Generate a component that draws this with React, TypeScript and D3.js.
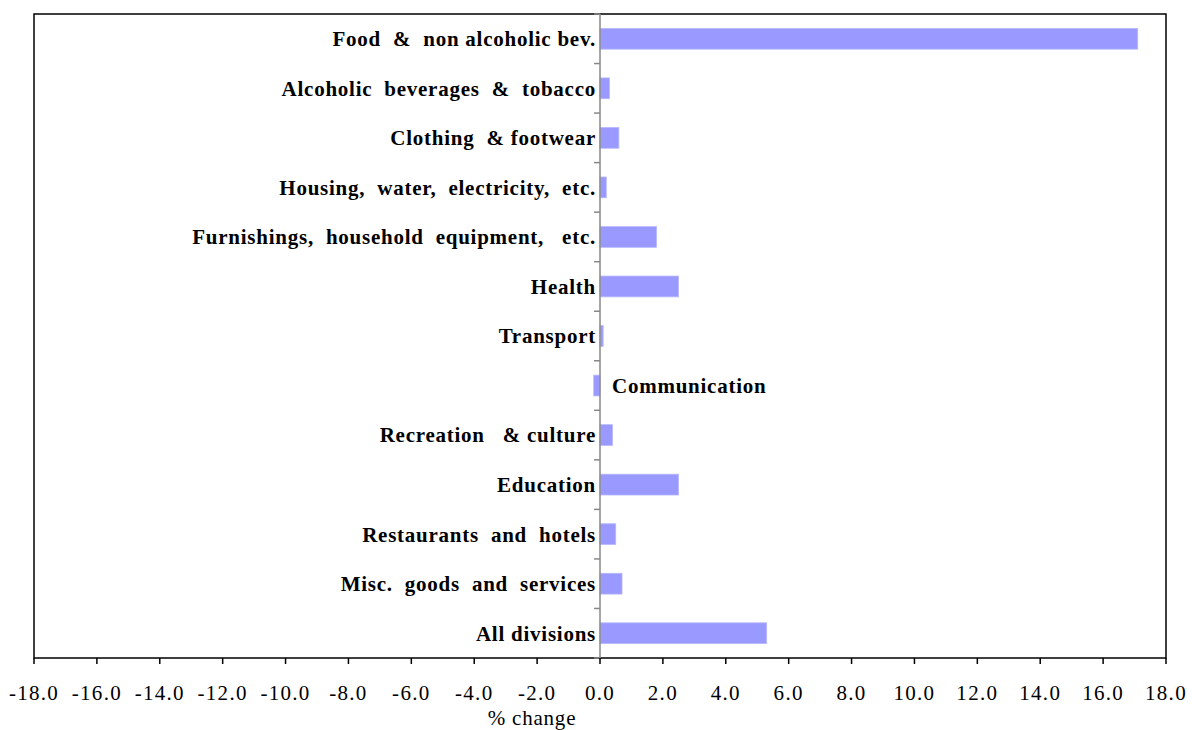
import React from "react";
import * as d3 from "d3";

const categories = [
  "Food  &  non alcoholic bev.",
  "Alcoholic  beverages  &  tobacco",
  "Clothing  & footwear",
  "Housing,  water,  electricity,  etc.",
  "Furnishings,  household  equipment,   etc.",
  "Health",
  "Transport",
  "Communication",
  "Recreation   & culture",
  "Education",
  "Restaurants  and  hotels",
  "Misc.  goods  and  services",
  "All divisions",
];
const values = [17.1, 0.3, 0.6, 0.2, 1.8, 2.5, 0.1, -0.2, 0.4, 2.5, 0.5, 0.7, 5.3];
const xTicks = d3.range(-18, 18.001, 2);
const xTitle = "% change";

export default function App() {
  const W = 1192, H = 730;
  const left = 34, right = 1166, top = 14, bottom = 658;
  const x = d3.scaleLinear().domain([-18, 18]).range([left, right]);
  const y = d3.scaleBand<string>().domain(categories).range([top, bottom]).paddingInner(0.58).paddingOuter(0.29);
  const yb = d3.scaleBand<string>().domain(categories).range([top, bottom]);
  const x0 = x(0);
  const font = "Liberation Serif";
  return (
    <svg width={W} height={H} style={{ position: "absolute", left: 0, top: 0 }}>
      <rect x={0} y={0} width={W} height={H} fill="#fff" />
      <rect x={left} y={top} width={right - left} height={bottom - top} fill="none" stroke="#000" strokeWidth={1.5} />
      {categories.map((c, i) => {
        const v = values[i];
        const bx = Math.min(x(0), x(v));
        const bw = Math.abs(x(v) - x(0));
        const cy = (y(c) as number) + y.bandwidth() / 2;
        return (
          <g key={c}>
            <rect x={bx} y={y(c)} width={bw} height={y.bandwidth()} fill="#9999ff" stroke="#b8b8ff" strokeWidth={0.8} />
            <text
              x={v < 0 ? x0 + 12 : x0 - 4}
              y={cy}
              dy="0.35em"
              textAnchor={v < 0 ? "start" : "end"}
              style={{ whiteSpace: "pre", fontFamily: font, fontWeight: "bold", fontSize: 21, letterSpacing: 0.75 }}
            >
              {c}
            </text>
          </g>
        );
      })}
      <line x1={x0} x2={x0} y1={top} y2={bottom} stroke="#888" strokeWidth={1.5} />
      {categories.map((c, i) => (
        <line key={"t" + i} x1={x0 - 6} x2={x0} y1={(yb(c) as number) + yb.bandwidth()} y2={(yb(c) as number) + yb.bandwidth()} stroke="#888" strokeWidth={1.5} />
      ))}
      <line x1={x0 - 6} x2={x0} y1={top} y2={top} stroke="#888" strokeWidth={1.5} />
      {xTicks.map((t) => (
        <g key={"x" + t}>
          <line x1={x(t)} x2={x(t)} y1={bottom} y2={bottom + 6} stroke="#000" strokeWidth={1.5} />
          <text x={x(t)} y={700} textAnchor="middle" style={{ fontFamily: font, fontSize: 21, letterSpacing: 1.3 }}>
            {t.toFixed(1)}
          </text>
        </g>
      ))}
      <text x={532} y={725} textAnchor="middle" style={{ fontFamily: font, fontSize: 21, letterSpacing: 0.8 }}>
        {xTitle}
      </text>
    </svg>
  );
}
